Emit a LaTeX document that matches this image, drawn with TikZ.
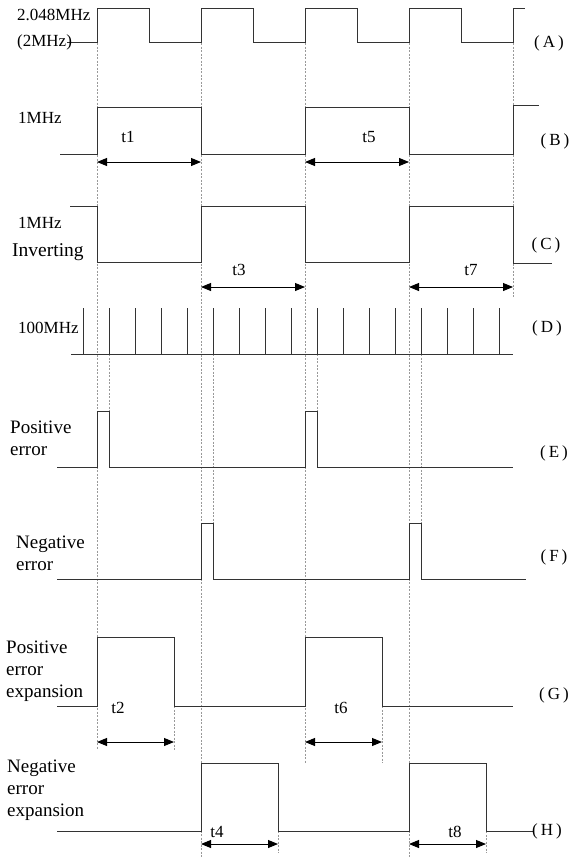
\documentclass[tikz,border=0pt]{standalone}
\usepackage{fontspec}
\setmainfont{Liberation Serif}
\usetikzlibrary{arrows.meta}

\begin{document}
\begin{tikzpicture}[x=1pt, y=-1pt,
      wave/.style={line width=1pt, draw=black!80},
      guide/.style={draw=black!40, line width=0.6pt,
                    dash pattern=on 2pt off 1.5pt},
      dim/.style={{Triangle[length=10pt,width=8pt]}-{Triangle[length=10pt,width=8pt]},
                  line width=0.9pt},
      sig/.style={anchor=west, inner sep=0pt, align=left,
                  font=\fontsize{19}{22}\selectfont},
      freq/.style={anchor=west, inner sep=0pt,
                   font=\fontsize{17}{20}\selectfont},
      tag/.style={inner sep=0pt, font=\fontsize{17}{19}\selectfont},
      tlab/.style={inner sep=0pt, font=\fontsize{17}{20}\selectfont}]
    \useasboundingbox (0,0) rectangle (570,857);

    % guide lines
    \draw[guide] (97,8)   -- (97,750);
    \draw[guide] (201,8)  -- (201,857);
    \draw[guide] (305,8)  -- (305,763);
    \draw[guide] (409,8)  -- (409,857);
    \draw[guide] (513,8)  -- (513,297);
    \draw[guide] (109,354) -- (109,411);
    \draw[guide] (213,354) -- (213,523);
    \draw[guide] (317,354) -- (317,411);
    \draw[guide] (421,354) -- (421,523);
    \draw[guide] (174,706) -- (174,750);
    \draw[guide] (382,706) -- (382,763);
    \draw[guide] (278,831) -- (278,853);
    \draw[guide] (486,831) -- (486,853);

    % (A) 2.048MHz
    \draw[wave] (67,42) -- (97,42) -- (97,8) -- (149,8) -- (149,42)
      -- (201,42) -- (201,8) -- (253,8) -- (253,42) -- (305,42) -- (305,8)
      -- (357,8) -- (357,42) -- (409,42) -- (409,8) -- (461,8) -- (461,42)
      -- (513,42) -- (513,8) -- (525,8);
    % (B) 1MHz
    \draw[wave] (60,154) -- (97,154) -- (97,107) -- (201,107) -- (201,154)
      -- (305,154) -- (305,107) -- (409,107) -- (409,154) -- (513,154)
      -- (513,105) -- (539,105);
    % (C) 1MHz inverting
    \draw[wave] (70,206) -- (97,206) -- (97,262) -- (201,262) -- (201,206)
      -- (305,206) -- (305,262) -- (409,262) -- (409,206) -- (513,206)
      -- (513,263) -- (552,263);
    % (D) 100MHz
    \draw[wave] (71,354) -- (513,354);
    \foreach \k in {0,...,16}
      \draw[wave] (83+26*\k,354) -- (83+26*\k,308);
    % (E) positive error
    \draw[wave] (57,467) -- (97,467) -- (97,411) -- (109,411) -- (109,467)
      -- (305,467) -- (305,411) -- (317,411) -- (317,467) -- (513,467);
    % (F) negative error
    \draw[wave] (57,579) -- (201,579) -- (201,523) -- (213,523) -- (213,579)
      -- (409,579) -- (409,523) -- (421,523) -- (421,579) -- (526,579);
    % (G) positive error expansion
    \draw[wave] (57,706) -- (97,706) -- (97,637) -- (174,637) -- (174,706)
      -- (305,706) -- (305,637) -- (382,637) -- (382,706) -- (513,706);
    % (H) negative error expansion
    \draw[wave] (57,831) -- (201,831) -- (201,763) -- (278,763) -- (278,831)
      -- (409,831) -- (409,763) -- (486,763) -- (486,831) -- (533,831);

    % widths
    \draw[dim] (97,162)  -- (201,162);
    \draw[dim] (305,162) -- (409,162);
    \draw[dim] (201,287) -- (305,287);
    \draw[dim] (409,287) -- (513,287);
    \draw[dim] (97,742)  -- (174,742);
    \draw[dim] (305,742) -- (382,742);
    \draw[dim] (201,844) -- (278,844);
    \draw[dim] (409,844) -- (486,844);
    \node[tlab] (t1) at (128,137) {t1};
    \node[tlab] (t5) at (369,137) {t5};
    \node[tlab] (t3) at (239,270) {t3};
    \node[tlab] (t7) at (471,270) {t7};
    \node[tlab] (t2) at (118,708) {t2};
    \node[tlab] (t6) at (341,708) {t6};
    \node[tlab] (t4) at (217,832) {t4};
    \node[tlab] (t8) at (455,832) {t8};

    % signal names
    \node[freq] (fa)  at (17,15)  {2.048MHz};
    \node[freq] (fa2) at (17,42)  {(2MHz)};
    \node[freq] (fb)  at (18,118) {1MHz};
    \node[freq] (fc)  at (18,223) {1MHz};
    \node[freq, font=\fontsize{19.5}{22}\selectfont] (inv) at (12,252) {Inverting};
    \node[freq] (fd)  at (18,328) {100MHz};
    \node[sig] (pe)  at (10,438.5) {Positive\\error};
    \node[sig] (ne)  at (16,553)   {Negative\\error};
    \node[sig] (pex) at (6,671)    {Positive\\error\\expansion};
    \node[sig] (nex) at (7,790)    {Negative\\error\\expansion};

    % row tags
    \node[tag] (ta) at (549,43)  {(\hspace{3pt}A\hspace{3pt})};
    \node[tag] (tb) at (555,141) {(\hspace{3pt}B\hspace{3pt})};
    \node[tag] (tc) at (546,245) {(\hspace{3pt}C\hspace{3pt})};
    \node[tag] (td) at (547,328) {(\hspace{3pt}D\hspace{3pt})};
    \node[tag] (te) at (554,453) {(\hspace{3pt}E\hspace{3pt})};
    \node[tag] (tf) at (554,557) {(\hspace{3pt}F\hspace{3pt})};
    \node[tag] (tg) at (554,695) {(\hspace{3pt}G\hspace{3pt})};
    \node[tag] (th) at (547,831) {(\hspace{3pt}H\hspace{3pt})};
  \end{tikzpicture}
\end{document}
